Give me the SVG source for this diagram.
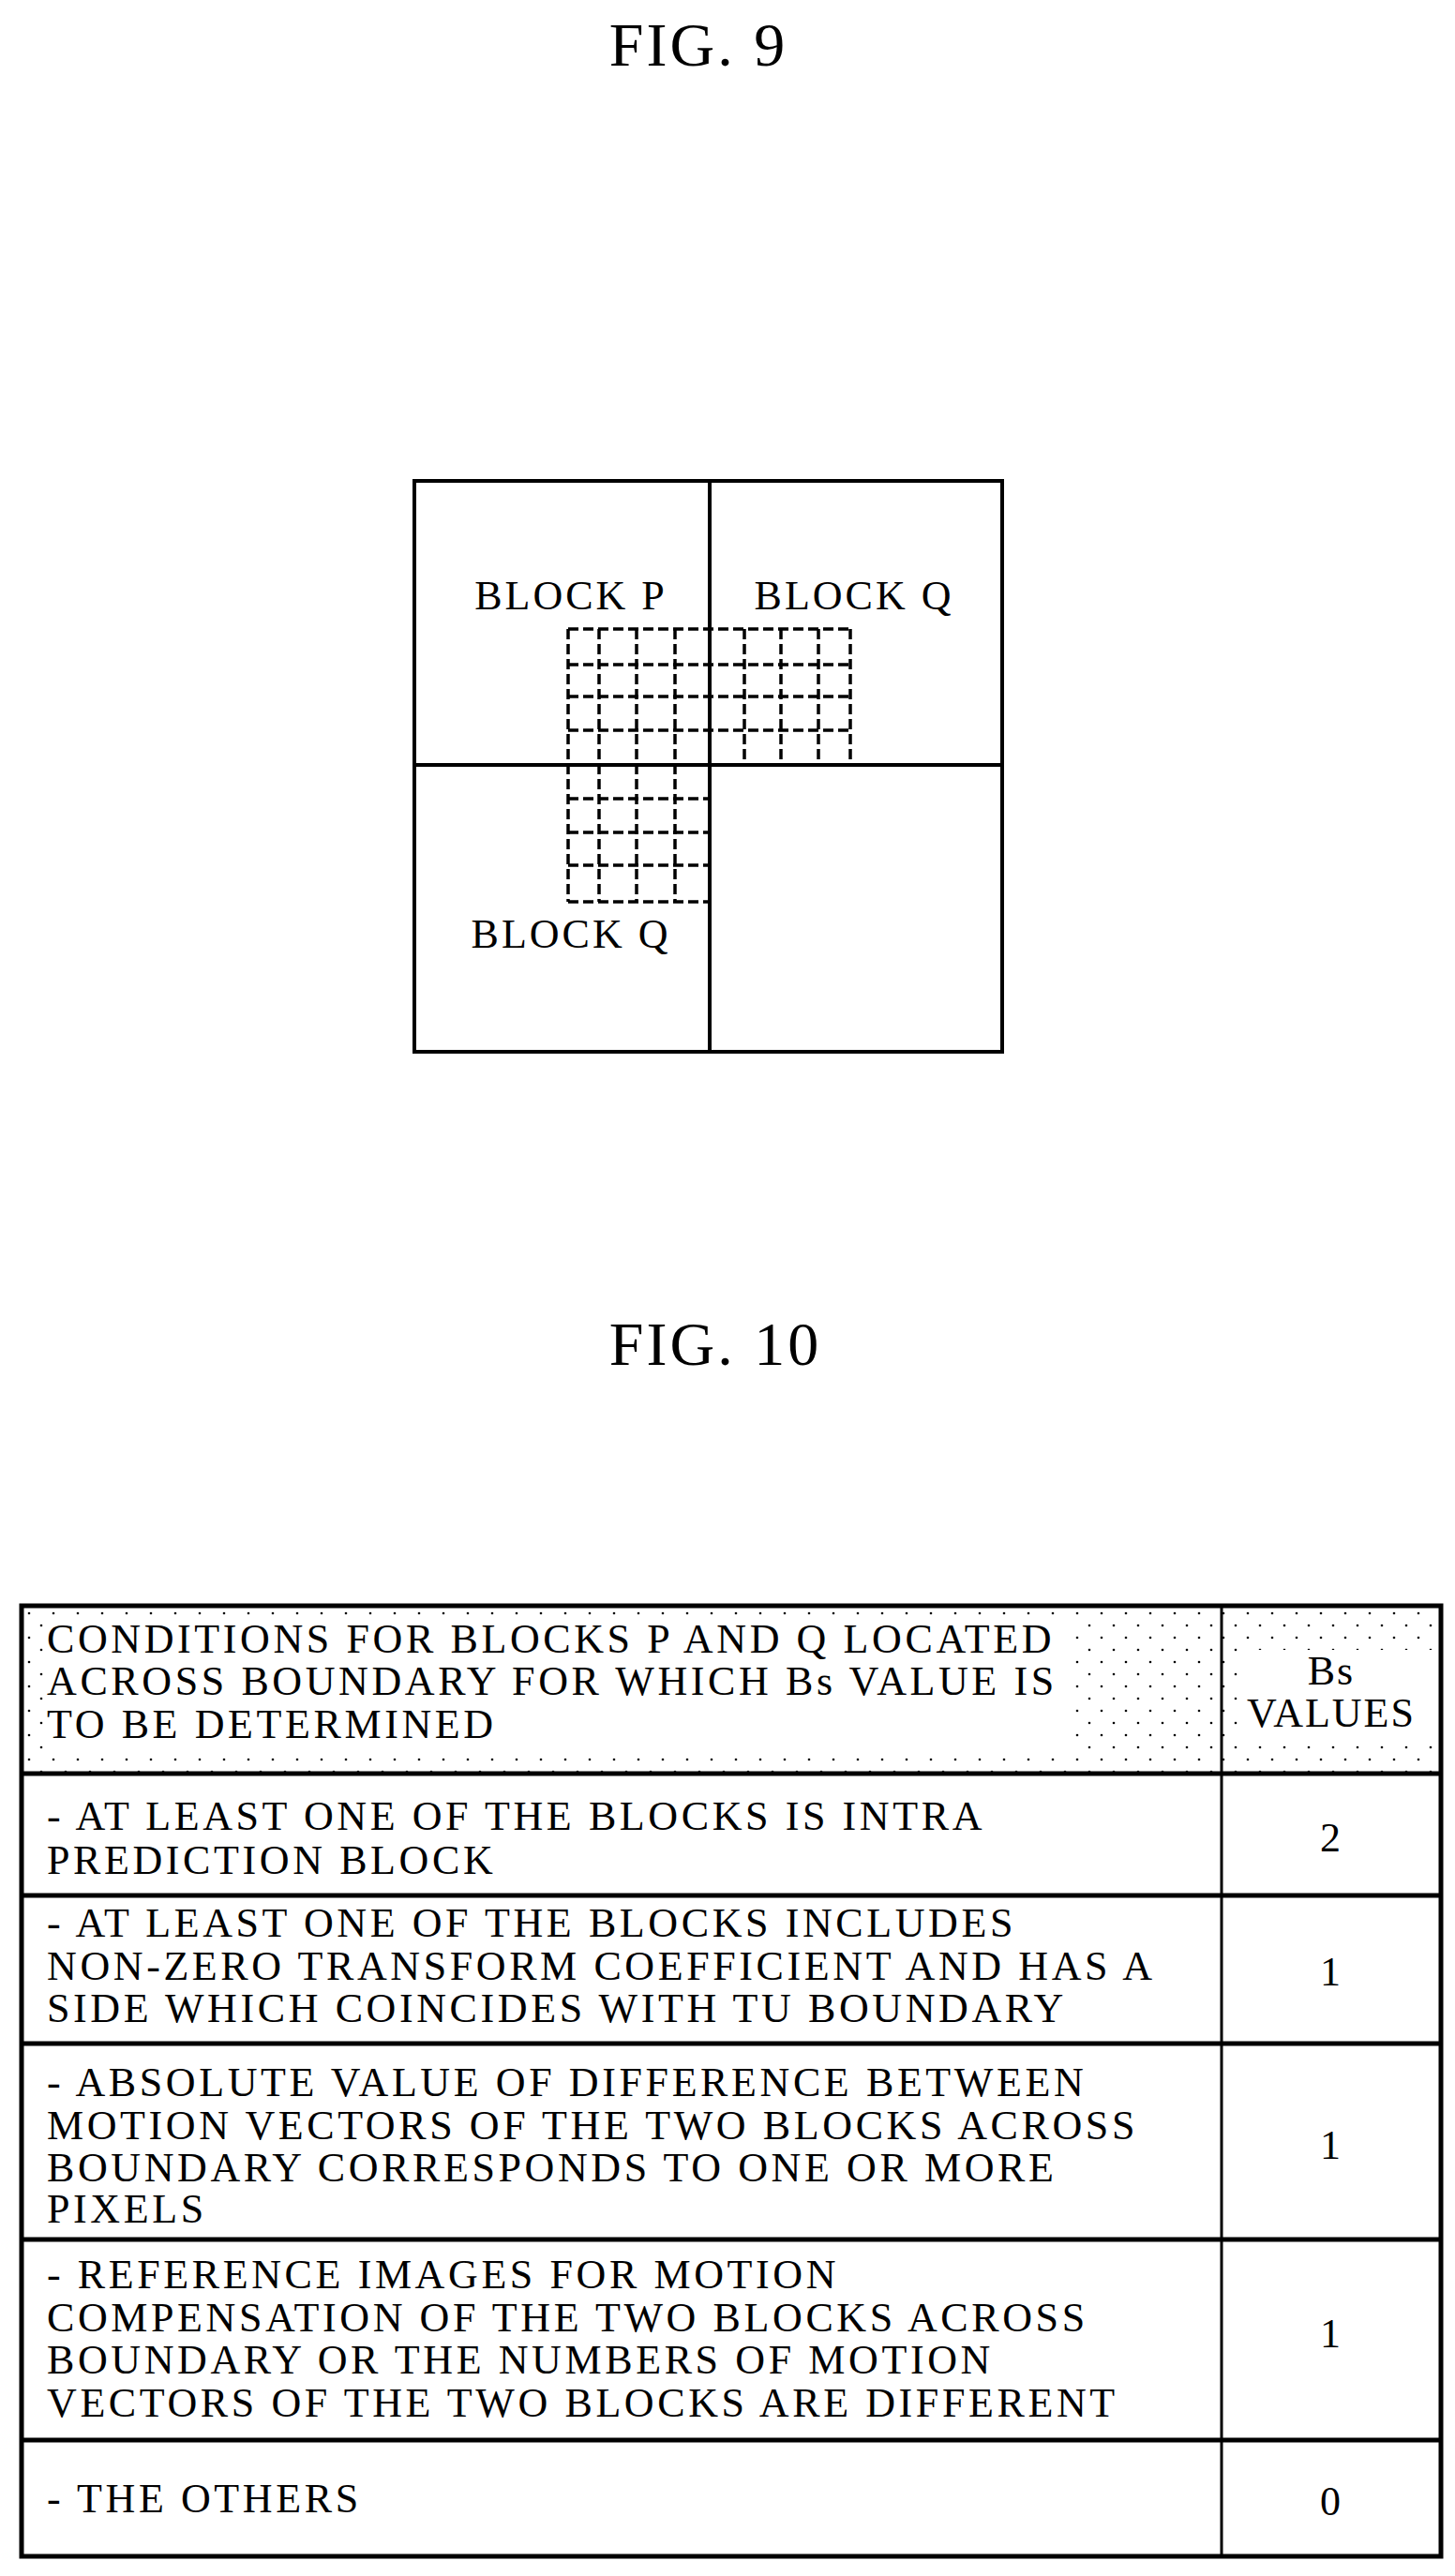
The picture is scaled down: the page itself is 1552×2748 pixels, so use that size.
<svg xmlns="http://www.w3.org/2000/svg" width="1552" height="2748" viewBox="0 0 1552 2748">
<style>
text{font-family:"Liberation Serif","Times New Roman",serif;fill:#000}
.t{font-size:66px;text-anchor:middle;letter-spacing:3px}
.l{font-size:44px;text-anchor:middle;letter-spacing:3px}
.c{font-size:44px;letter-spacing:3.6px}
.v{font-size:44px;text-anchor:middle;letter-spacing:2px}
.s{stroke:#000;stroke-width:4;fill:none}
.d{stroke:#000;stroke-width:3.5;fill:none;stroke-dasharray:11,5}
.tb{stroke:#000;stroke-width:5;fill:none}
</style>
<defs>
<pattern id="dots" width="26" height="26" patternUnits="userSpaceOnUse">
<circle cx="5" cy="5" r="1.3" fill="#000"/><circle cx="18" cy="18" r="1.3" fill="#000"/>
</pattern>
</defs>
<rect width="1552" height="2748" fill="#fff"/>
<text class="t" x="745" y="70">FIG. 9</text>
<g id="fig9">
<rect class="s" x="442" y="513" width="627" height="609"/>
<line class="s" x1="757" y1="513" x2="757" y2="1122"/>
<line class="s" x1="442" y1="816" x2="1069" y2="816"/>
</g>
<g id="grid">
<path class="d" d="M606 671H907 M606 709H907 M606 743H907 M606 779H907 M606 852H757 M606 888H757 M606 923H757 M606 962H757 M606 671V962 M639 671V962 M679 671V962 M720 671V962 M794 671V816 M833 671V816 M873 671V816 M907 671V816"/>
</g>
<g id="labels9">
<text class="l" x="609" y="650">BLOCK P</text>
<text class="l" x="911" y="650">BLOCK Q</text>
<text class="l" x="609" y="1011">BLOCK Q</text>
</g>
<text class="t" x="763" y="1456">FIG. 10</text>
<g id="table">
<rect x="23" y="1713" width="1514" height="179" fill="url(#dots)"/>
<rect x="46" y="1727" width="1096" height="140" fill="#fff"/>
<rect x="1325" y="1760" width="210" height="95" fill="#fff"/>
<rect class="tb" x="23" y="1713" width="1514" height="1014"/>
<line class="s" x1="1303" y1="1713" x2="1303" y2="2727" style="stroke-width:3"/>
<line class="tb" x1="23" y1="1892" x2="1537" y2="1892"/>
<line class="tb" x1="23" y1="2022" x2="1537" y2="2022"/>
<line class="tb" x1="23" y1="2180" x2="1537" y2="2180"/>
<line class="tb" x1="23" y1="2389" x2="1537" y2="2389"/>
<line class="tb" x1="23" y1="2603" x2="1537" y2="2603"/>
</g>
<g id="text10">
<text class="c" x="50" y="1763">CONDITIONS FOR BLOCKS P AND Q LOCATED</text>
<text class="c" x="50" y="1808">ACROSS BOUNDARY FOR WHICH Bs VALUE IS</text>
<text class="c" x="50" y="1854">TO BE DETERMINED</text>
<text class="v" x="1420" y="1797">Bs</text>
<text class="v" x="1420" y="1842">VALUES</text>
<text class="c" x="50" y="1952">- AT LEAST ONE OF THE BLOCKS IS INTRA</text>
<text class="c" x="50" y="1999">PREDICTION BLOCK</text>
<text class="v" x="1420" y="1975">2</text>
<text class="c" x="50" y="2066">- AT LEAST ONE OF THE BLOCKS INCLUDES</text>
<text class="c" x="50" y="2112">NON-ZERO TRANSFORM COEFFICIENT AND HAS A</text>
<text class="c" x="50" y="2157">SIDE WHICH COINCIDES WITH TU BOUNDARY</text>
<text class="v" x="1420" y="2118">1</text>
<text class="c" x="50" y="2236">- ABSOLUTE VALUE OF DIFFERENCE BETWEEN</text>
<text class="c" x="50" y="2282">MOTION VECTORS OF THE TWO BLOCKS ACROSS</text>
<text class="c" x="50" y="2327">BOUNDARY CORRESPONDS TO ONE OR MORE</text>
<text class="c" x="50" y="2371">PIXELS</text>
<text class="v" x="1420" y="2303">1</text>
<text class="c" x="50" y="2441">- REFERENCE IMAGES FOR MOTION</text>
<text class="c" x="50" y="2487">COMPENSATION OF THE TWO BLOCKS ACROSS</text>
<text class="c" x="50" y="2532">BOUNDARY OR THE NUMBERS OF MOTION</text>
<text class="c" x="50" y="2578">VECTORS OF THE TWO BLOCKS ARE DIFFERENT</text>
<text class="v" x="1420" y="2504">1</text>
<text class="c" x="50" y="2680">- THE OTHERS</text>
<text class="v" x="1420" y="2683">0</text>
</g>
</svg>
